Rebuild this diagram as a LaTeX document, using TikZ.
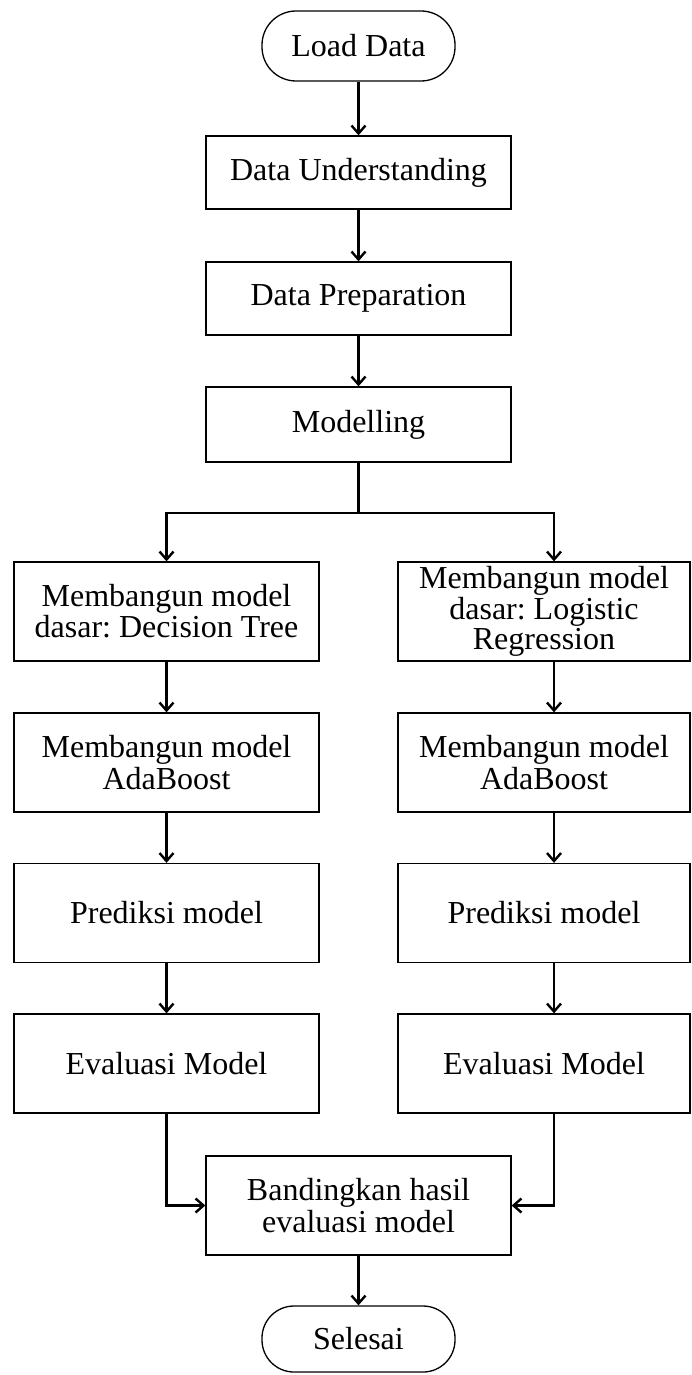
\documentclass[tikz,border=0pt]{standalone}
\usepackage{fontspec}
\setmainfont{Liberation Serif}
\usetikzlibrary{arrows.meta}

\begin{document}
\frenchspacing
\begin{tikzpicture}[x=0.5pt,y=-0.5pt,
  box/.style={draw,line width=0.65pt,minimum width=152.5pt,minimum height=49.5pt,inner sep=2pt,align=center,font=\fontsize{16}{13.5}\selectfont},
  term/.style={draw,line width=0.65pt,rounded corners=17pt,minimum width=96.5pt,minimum height=35pt,inner sep=2pt,font=\fontsize{16}{13.5}\selectfont},
  arr/.style={line width=1.2pt,-{Straight Barb[length=4pt,width=7pt]}},
  lin/.style={line width=1.2pt}]
\useasboundingbox (0,0) rectangle (691,1375);
% main column
\node [term] (load) at (358.5,46) {Load Data};
\node [box,minimum height=36.5pt] (du) at (358.5,172.5) {Data Understanding};
\node [box,minimum height=36.5pt] (dp) at (358.5,298.5) {Data Preparation};
\node [box,minimum height=37.5pt] (mod) at (358.5,424.5) {Modelling};
\coordinate (split) at (358.5,513);
% left branch
\node [box] (dt) at (166.5,611.5) {Membangun model\\dasar: Decision Tree};
\node [box] (adal) at (166.5,762.5) {Membangun model\\AdaBoost};
\node [box] (predl) at (166.5,913) {Prediksi model};
\node [box] (evall) at (166.5,1063.5) {Evaluasi Model};
% right branch
\node [box,minimum width=146pt] (lr) at (544,611.5) {Membangun model\\dasar: Logistic\\Regression};
\node [box,minimum width=146pt] (adar) at (544,762.5) {Membangun model\\AdaBoost};
\node [box,minimum width=146pt] (predr) at (544,913) {Prediksi model};
\node [box,minimum width=146pt] (evalr) at (544,1063.5) {Evaluasi Model};
% end
\node [box] (cmp) at (358.5,1205.5) {Bandingkan hasil\\evaluasi model};
\node [term,minimum height=33pt,rounded corners=16pt] (end) at (358.5,1339) {Selesai};
% arrows
\draw [arr] (load)--(du);
\draw [arr] (du)--(dp);
\draw [arr] (dp)--(mod);
\draw [lin] (mod)--(split);
\draw [arr] (split) -| (dt);
\draw [arr] (split) -| ([xshift=5pt]lr.north);
\draw [arr] (dt)--(adal);
\draw [arr] (adal)--(predl);
\draw [arr] (predl)--(evall);
\draw [arr] ([xshift=5pt]lr.south)--([xshift=5pt]adar.north);
\draw [arr] ([xshift=5pt]adar.south)--([xshift=5pt]predr.north);
\draw [arr] ([xshift=5pt]predr.south)--([xshift=5pt]evalr.north);
\draw [arr] (evall.south) |- (cmp.west);
\draw [arr] ([xshift=5pt]evalr.south) |- (cmp.east);
\draw [arr] (cmp)--(end);
\end{tikzpicture}
\end{document}
